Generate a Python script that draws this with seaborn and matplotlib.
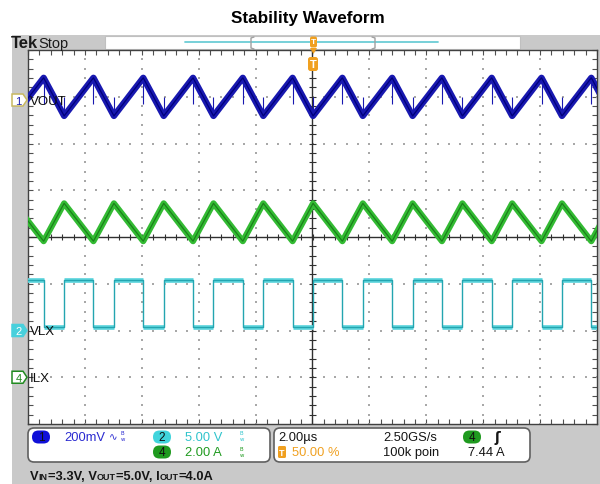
import numpy as np
import pandas as pd
import matplotlib
matplotlib.use("Agg")
import matplotlib.pyplot as plt
import seaborn as sns
from matplotlib.patches import Rectangle, FancyBboxPatch, Polygon

# Switching edges (time in us, trigger at 0)
# switch turns off -> ILX peak, VOUT valley, VLX goes high
t_off = [-10.48, -8.73, -6.98, -5.23, -3.48, -1.73, 0.02, 1.77, 3.52, 5.27, 7.02, 8.77, 10.52]
# switch turns on -> ILX valley, VOUT peak, VLX goes low
t_on = [-9.45, -7.70, -5.95, -4.20, -2.45, -0.70, 1.05, 2.80, 4.55, 6.30, 8.05, 9.80]

vout_peak, vout_valley = 0.095, -0.068    # V, AC coupled
vout_spike_dn, vout_spike_up = 0.11, 0.08
vlx_high, vlx_low = 5.35, 0.40            # V
ilx_peak, ilx_valley = 7.44, 5.82         # A

# channel settings: units/div and ground marker position (div)
ch_scale = {"VOUT": 0.2, "VLX": 5.0, "ILX": 2.0}
ch_pos = {"VOUT": 2.93, "VLX": -2.0, "ILX": -3.0}

W, H = 600, 485
sns.set_style("white")
plt.rcParams["font.family"] = ["Liberation Sans", "DejaVu Sans"]

BLUE = "#1818b0"
GREEN = "#33bb33"
ORANGE = "#f0a020"


def to_div(vals, ch):
    return np.asarray(vals) / ch_scale[ch] + ch_pos[ch]


def triangle(at_off, at_on):
    t, v = [], []
    for i in range(len(t_on)):
        t += [t_off[i], t_on[i]]
        v += [at_off, at_on]
    t.append(t_off[-1])
    v.append(at_off)
    return t, v


def square():
    t, v = [], []
    for i in range(len(t_on)):
        t += [t_off[i], t_off[i], t_on[i], t_on[i]]
        v += [vlx_low, vlx_high, vlx_high, vlx_low]
    t.append(t_off[-1])
    v.append(vlx_low)
    return t, v


fig = plt.figure(figsize=(W / 100, H / 100), dpi=100)


def px_axes(z):
    a = fig.add_axes([0, 0, 1, 1], zorder=z)
    a.set_xlim(0, W)
    a.set_ylim(H, 0)
    a.axis("off")
    return a


bg = px_axes(0)
bg.add_patch(Rectangle((12, 36), W - 12, H - 36, fc="#c9c9c9", ec="none"))
bg.add_patch(Rectangle((105, 37), 415, 13, fc="white", ec="#c0c0c0", lw=0.8))
bg.plot([185, 438], [43, 43], color="#6ccdd6", lw=1.3)
for xb, d in [(251, 1), (375, -1)]:
    bg.plot([xb + 3 * d, xb, xb, xb + 3 * d], [38, 39, 49, 50], color="#a0a0a0", lw=1)

# graticule
ax = fig.add_axes([28 / W, 1 - 425 / H, 569 / W, 374 / H], zorder=1)
ax.set_facecolor("white")
ax.set_xlim(-10, 10)
ax.set_ylim(-4, 4)
ax.set_xticks(np.arange(-10, 10.01, 2))
ax.set_xticks(np.arange(-10, 10.01, 0.4), minor=True)
ax.set_yticks(np.arange(-4, 4.01, 1))
ax.set_yticks(np.arange(-4, 4.01, 0.2), minor=True)
ax.tick_params(which="both", direction="in", length=3.5, width=0.8, color="#505050",
               top=True, right=True, bottom=True, left=True,
               labelbottom=False, labelleft=False)
for s in ax.spines.values():
    s.set_color("#404040")
    s.set_linewidth(1.0)

gx, gy = np.meshgrid([-8, -6, -4, -2, 2, 4, 6, 8], np.arange(-4, 4.001, 0.2))
ax.scatter(gx.ravel(), gy.ravel(), s=1.2, marker="s", color="#a8a8a8", lw=0, zorder=1)
hx, hy = np.meshgrid(np.arange(-10, 10.001, 0.4), [-3, -2, -1, 1, 2, 3])
ax.scatter(hx.ravel(), hy.ravel(), s=1.2, marker="s", color="#a8a8a8", lw=0, zorder=1)
ax.axhline(0, color="#303030", lw=1.0, zorder=1.5)
ax.axvline(0, color="#303030", lw=1.0, zorder=1.5)
ax.vlines(np.arange(-10, 10.01, 0.4), -0.07, 0.07, color="#303030", lw=0.8, zorder=1.5)
ax.hlines(np.arange(-4, 4.01, 0.2), -0.11, 0.11, color="#303030", lw=0.8, zorder=1.5)

# traces
t, v = triangle(ilx_peak, ilx_valley)
ilx = pd.DataFrame({"t": t, "y": to_div(v, "ILX")})
sns.lineplot(data=ilx, x="t", y="y", sort=False, estimator=None, color=GREEN, lw=4.4, ax=ax, zorder=3)
sns.lineplot(data=ilx, x="t", y="y", sort=False, estimator=None, color="#1a801a", lw=0.9, ax=ax, zorder=3.1)

t, v = triangle(vout_valley, vout_peak)
vout = pd.DataFrame({"t": t, "y": to_div(v, "VOUT")})
sns.lineplot(data=vout, x="t", y="y", sort=False, estimator=None, color=BLUE, lw=4.6, ax=ax, zorder=3)
sns.lineplot(data=vout, x="t", y="y", sort=False, estimator=None, color="#00007a", lw=0.9, ax=ax, zorder=3.1)
n_on, n_off = len(t_on), len(t_off)
ax.vlines(t_on, np.full(n_on, to_div(vout_peak - vout_spike_dn, "VOUT")),
          np.full(n_on, to_div(vout_peak, "VOUT")), color=BLUE, lw=0.8, zorder=3)
ax.vlines(t_off, np.full(n_off, to_div(vout_valley, "VOUT")),
          np.full(n_off, to_div(vout_valley + vout_spike_up, "VOUT")), color=BLUE, lw=0.8, zorder=3)

t, v = square()
vlx = pd.DataFrame({"t": t, "y": to_div(v, "VLX")})
ax.hlines(np.full(n_on, to_div(vlx_high, "VLX")), t_off[:-1], t_on, color="#5fd6de", lw=3.4, zorder=3)
ax.hlines(np.full(n_on, to_div(vlx_low, "VLX")), t_on, t_off[1:], color="#5fd6de", lw=3.4, zorder=3)
sns.lineplot(data=vlx, x="t", y="y", sort=False, estimator=None, color="#23a5b0", lw=1.0, ax=ax, zorder=3.1)
ax.set_xlabel("")
ax.set_ylabel("")

# foreground: labels, markers, readouts
fg = px_axes(2)
fig.text(308 / W, 1 - 18 / H, "Stability Waveform", ha="center", va="center",
         fontsize=12.3, fontweight="bold", color="black")
fg.text(11, 43.5, "Tek", fontsize=12, fontweight="bold", va="center", color="#1a1a1a")
fg.text(38, 44, "Stop", fontsize=10.5, va="center", color="#1a1a1a")

# trigger markers
fg.add_patch(FancyBboxPatch((310, 37.5), 7, 11, boxstyle="round,pad=0,rounding_size=2",
                            fc=ORANGE, ec="none"))
fg.text(313.5, 43, "T", fontsize=6, color="white", fontweight="bold", ha="center", va="center")
fg.add_patch(Polygon([(310, 49), (317, 49), (313.5, 55)], fc=ORANGE, ec="none"))
fg.add_patch(FancyBboxPatch((308, 58), 10, 14, boxstyle="round,pad=0,rounding_size=2.5",
                            fc=ORANGE, ec="none"))
fg.text(313, 65, "T", fontsize=8, color="white", fontweight="bold", ha="center", va="center")


def ch_marker(yc, num, fc, ec, tc):
    fg.add_patch(Polygon([(12, yc - 6), (23, yc - 6), (27, yc), (23, yc + 6), (12, yc + 6)],
                         closed=True, fc=fc, ec=ec, lw=1.1))
    fg.text(18.5, yc + 0.5, num, fontsize=8, color=tc, ha="center", va="center")


marker_y = {ch: 238 - ch_pos[ch] * 46.75 for ch in ch_pos}
ch_marker(marker_y["VOUT"], "1", "white", "#c8b860", "#2020b0")
ch_marker(marker_y["VLX"], "2", "#48d0dc", "#48d0dc", "white")
ch_marker(marker_y["ILX"], "4", "white", "#208a20", "#208a20")
for ch in ["VOUT", "VLX", "ILX"]:
    fg.text(30, marker_y[ch] + 0.5, ch, fontsize=9.5, va="center", color="#101010")

# readout boxes
for x0, w in [(28, 242), (274, 256)]:
    fg.add_patch(FancyBboxPatch((x0, 429), w, 34, boxstyle="round,pad=0,rounding_size=6",
                                fc="white", ec="#606060", lw=1.2))


def badge(xc, yc, num, fc):
    fg.add_patch(FancyBboxPatch((xc - 9, yc - 6.5), 18, 13, boxstyle="round,pad=0,rounding_size=6.5",
                                fc=fc, ec="none"))
    fg.text(xc, yc + 0.5, num, fontsize=8.5, color="#101010", ha="center", va="center")


def bw(x, y, c):
    fg.text(x, y, r"$^{\mathrm{B}}_{\mathrm{w}}$", fontsize=5.5, color=c, va="center")


badge(41, 438, "1", "#1010d8")
fg.text(64, 438, "200mV", fontsize=9.3, color="#2a2ad0", va="center")
fg.text(109, 437, "\u223f", fontsize=7.5, color="#2a2ad0", va="center", family=["DejaVu Sans"])
bw(120, 437, "#2a2ad0")
badge(162, 438, "2", "#40d4dc")
fg.text(185, 438, "5.00 V", fontsize=9.3, color="#30c4cc", va="center")
bw(239, 437, "#30c4cc")
badge(162, 453, "4", "#1f9a1f")
fg.text(185, 453, "2.00 A", fontsize=9.3, color="#1f9a1f", va="center")
bw(239, 453, "#1f9a1f")

fg.text(278, 438, "2.00\u00b5s", fontsize=9.3, color="#151515", va="center")
fg.add_patch(FancyBboxPatch((278, 447), 8, 12, boxstyle="round,pad=0,rounding_size=1.5",
                            fc=ORANGE, ec="none"))
fg.text(282, 453.5, "T", fontsize=6.5, color="white", fontweight="bold", ha="center", va="center")
fg.text(292, 453, "50.00 %", fontsize=9.3, color=ORANGE, va="center")
fg.text(383, 438, "2.50GS/s", fontsize=9.3, color="#151515", va="center")
fg.text(383, 453, "100k poin", fontsize=9.3, color="#151515", va="center")
badge(472, 438, "4", "#1f9a1f")
fg.text(494, 438, "\u0283", fontsize=10, color="#151515", va="center", fontweight="bold",
        family=["DejaVu Sans"])
fg.text(468, 453, "7.44 A", fontsize=9.3, color="#151515", va="center")

# conditions line under the screen
renderer = fig.canvas.get_renderer()
parts = [("V", 9.3), ("IN", 6.5), ("=3.3V, V", 9.3), ("OUT", 6.5), ("=5.0V, I", 9.3), ("OUT", 6.5), ("=4.0A", 9.3)]
x = 30
for s, size in parts:
    txt = fg.text(x, 480, s, fontsize=size, va="baseline", color="#151515", fontweight="bold",
                  family=["Liberation Sans Narrow", "Liberation Sans"])
    x += txt.get_window_extent(renderer=renderer).width

fig.savefig("out.png", dpi=100)
